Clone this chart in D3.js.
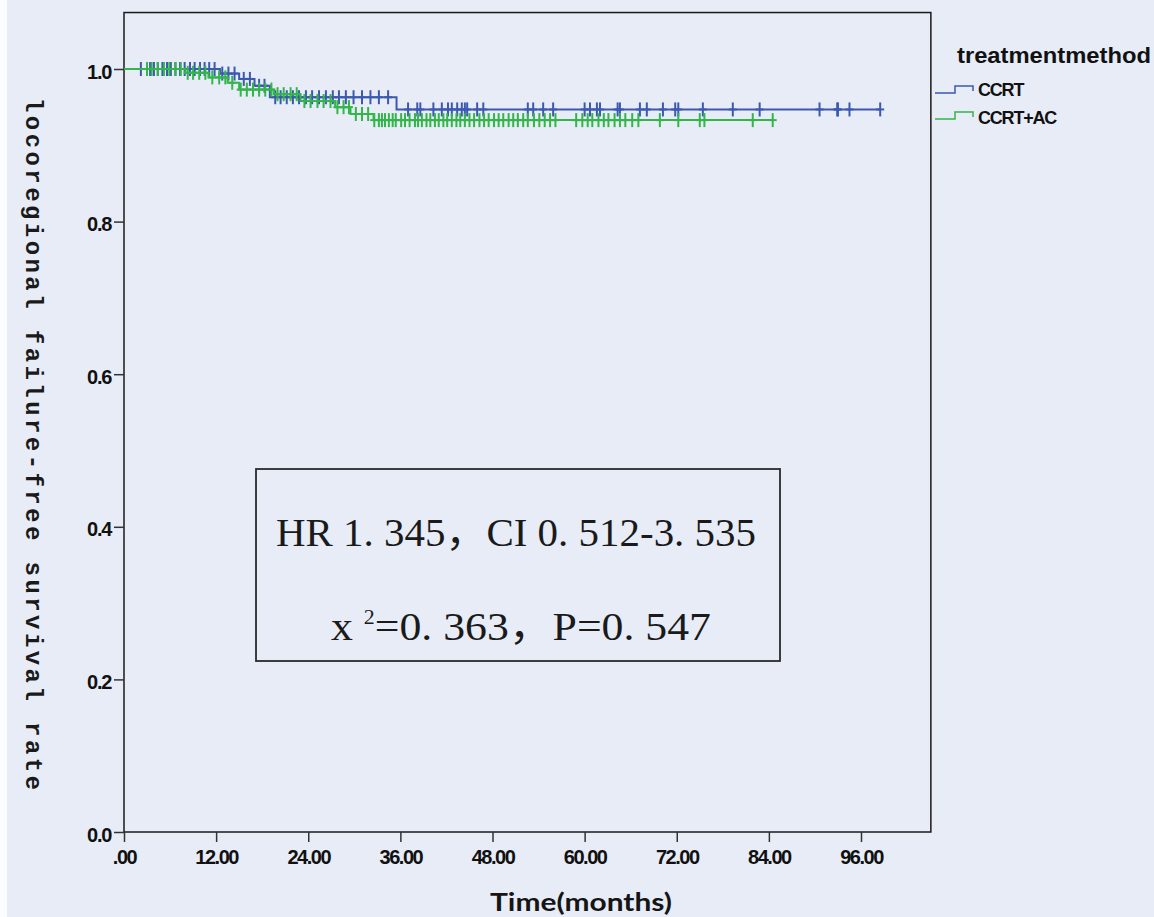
<!DOCTYPE html>
<html>
<head>
<meta charset="utf-8">
<script src="https://cdn.jsdelivr.net/npm/d3@7"></script>
<style>
  html, body { margin: 0; padding: 0; background: #e7ecf7; }
  svg { display: block; }
</style>
</head>
<body>
<svg></svg>
<script>
const width = 1154;
const height = 917;

// Kaplan-Meier step events (time in months, survival)
const ccrtTimes = [0, 12.5, 15.0, 17.0, 19.0, 35.5];
const ccrtSurv = [1, 0.994, 0.987, 0.978, 0.963, 0.947];
const ccrtEnd = 98.5;
const ccrtCensored = [2.2, 3.4, 3.9, 4.4, 5.0, 5.6, 6.1, 6.7, 7.3, 7.9, 8.6, 9.2, 9.9, 10.5, 11.1, 11.8,
    12.8, 13.6, 14.4, 15.6, 16.4, 17.6, 18.3, 19.7, 20.4, 21.2, 22.0, 22.8, 23.7, 24.5, 25.4, 26.3,
    27.2, 28.0, 28.9, 29.9, 31.0, 32.1, 33.2, 34.4, 37.0, 38.2, 38.6, 40.3, 41.4, 42.2, 42.7, 43.4,
    44.0, 44.4, 44.7, 46.0, 46.8, 52.6, 53.3, 54.6, 55.9, 60.0, 60.7, 61.6, 62.0, 64.3, 64.6, 67.2,
    68.1, 70.2, 71.8, 72.2, 75.4, 79.3, 82.8, 90.6, 92.9, 93.0, 94.5, 98.5];

const acTimes = [0, 8.0, 11.0, 13.5, 15.0, 19.5, 23.0, 27.5, 29.5, 32.5];
const acSurv = [1, 0.995, 0.989, 0.982, 0.973, 0.967, 0.958, 0.950, 0.941, 0.933];
const acEnd = 84.5;
const acCensored = [3.0, 3.6, 4.4, 5.2, 5.9, 6.7, 7.4, 8.3, 9.0, 9.8, 10.6, 11.5, 12.4, 13.2, 14.1,
    15.2, 16.0, 16.8, 17.6, 18.4, 19.2, 20.0, 20.8, 21.7, 22.5, 23.5, 24.3, 25.2, 26.0, 26.9, 27.8,
    28.6, 29.3, 30.2, 31.0, 31.8, 32.6, 33.2, 33.6, 34.0, 34.5, 35.0, 35.4, 36.1, 36.6, 37.2, 37.9,
    38.3, 38.8, 39.4, 39.9, 40.5, 41.0, 41.6, 42.1, 42.7, 43.3, 43.8, 44.4, 45.0, 45.6, 46.3, 46.9,
    47.5, 48.2, 48.8, 49.4, 50.1, 50.7, 51.3, 52.0, 52.6, 53.4, 54.1, 54.8, 55.5, 56.2, 58.9, 59.7,
    60.4, 61.0, 61.8, 62.5, 63.1, 63.9, 64.6, 65.3, 66.2, 67.0, 69.8, 72.2, 75.0, 75.6, 81.9, 84.5];

const xTicks = [0, 12, 24, 36, 48, 60, 72, 84, 96];
const xTickLabels = [".00", "12.00", "24.00", "36.00", "48.00", "60.00", "72.00", "84.00", "96.00"];
const yTicks = [0, 0.2, 0.4, 0.6, 0.8, 1.0];
const groupNames = ["CCRT", "CCRT+AC"];
const groupColors = ["#3c59b0", "#33b54a"];

const x = d3.scaleLinear().domain([0, 96]).range([124, 861]);
const y = d3.scaleLinear().domain([0, 1]).range([832, 69]);
const xMax = 105.1, yMax = 1.074;

const svg = d3.select("svg")
    .attr("width", width)
    .attr("height", height)
    .attr("viewBox", [0, 0, width, height]);

svg.append("rect").attr("width", width).attr("height", height).attr("fill", "#e7ecf7");
svg.append("rect").attr("width", 7).attr("height", height).attr("fill", "#fbfcfe");

// plot frame
svg.append("rect")
    .attr("x", x(0)).attr("y", y(yMax))
    .attr("width", x(xMax) - x(0)).attr("height", y(0) - y(yMax))
    .attr("fill", "none").attr("stroke", "#1a1a1a").attr("stroke-width", 1.5);

const xAxis = g => g
    .attr("transform", `translate(0,${y(0)})`)
    .call(d3.axisBottom(x).tickValues(xTicks).tickSize(10).tickPadding(8)
        .tickFormat((d, i) => xTickLabels[i]))
    .call(g => g.select(".domain").remove())
    .call(g => g.selectAll(".tick line").attr("stroke", "#333").attr("stroke-width", 1.5))
    .call(g => g.selectAll("text")
        .attr("fill", "#111")
        .attr("font-family", "Liberation Sans, Arial, sans-serif")
        .attr("font-weight", "bold")
        .attr("font-size", 20)
        .attr("letter-spacing", -1.5));

const yAxis = g => g
    .attr("transform", `translate(${x(0)},0)`)
    .call(d3.axisLeft(y).tickValues(yTicks).tickSize(10).tickPadding(3).tickFormat(d3.format(".1f")))
    .call(g => g.select(".domain").remove())
    .call(g => g.selectAll(".tick line").attr("stroke", "#333").attr("stroke-width", 1.5))
    .call(g => g.selectAll("text")
        .attr("fill", "#111")
        .attr("dy", "0.45em")
        .attr("font-family", "Liberation Sans, Arial, sans-serif")
        .attr("font-weight", "bold")
        .attr("font-size", 20)
        .attr("letter-spacing", -1.3));

svg.append("g").call(xAxis);
svg.append("g").call(yAxis);

// X-axis label
svg.append("text")
    .attr("x", 581).attr("y", 911)
    .attr("text-anchor", "middle")
    .attr("font-family", "Lato, sans-serif")
    .attr("font-weight", "bold")
    .attr("font-size", 25)
    .attr("fill", "#151515")
    .attr("textLength", 182)
    .attr("lengthAdjust", "spacingAndGlyphs")
    .text("Time(months)");

// Y-axis label
svg.append("text")
    .attr("transform", "translate(26,98) rotate(90)")
    .attr("font-family", "Liberation Mono, monospace")
    .attr("font-weight", "bold")
    .attr("font-size", 24)
    .attr("fill", "#1a1a1a")
    .attr("textLength", 692)
    .attr("lengthAdjust", "spacing")
    .text("locoregional failure-free survival rate");

// survival curves
const groups = [
    {times: ccrtTimes, surv: ccrtSurv, end: ccrtEnd, cens: ccrtCensored},
    {times: acTimes, surv: acSurv, end: acEnd, cens: acCensored}
];

function survAt(gr, t) {
    let s = gr.surv[0];
    gr.times.forEach((tt, i) => { if (tt <= t) s = gr.surv[i]; });
    return s;
}

const line = d3.line()
    .x(d => x(d[0]))
    .y(d => y(d[1]))
    .curve(d3.curveStepAfter);

groups.forEach((gr, gi) => {
    const pts = gr.times.map((t, i) => [t, gr.surv[i]]);
    pts.push([gr.end, gr.surv[gr.surv.length - 1]]);
    const g = svg.append("g").attr("stroke", groupColors[gi]).attr("stroke-width", 2);
    g.append("path")
        .attr("fill", "none")
        .attr("d", line(pts));
    g.selectAll("line.v")
        .data(gr.cens)
        .join("line")
        .attr("x1", d => x(d)).attr("x2", d => x(d))
        .attr("y1", d => y(survAt(gr, d)) - 7)
        .attr("y2", d => y(survAt(gr, d)) + 7);
    g.selectAll("line.h")
        .data(gr.cens)
        .join("line")
        .attr("x1", d => x(d) - 4).attr("x2", d => x(d) + 4)
        .attr("y1", d => y(survAt(gr, d)))
        .attr("y2", d => y(survAt(gr, d)));
});

// legend
svg.append("text")
    .attr("x", 957).attr("y", 63)
    .attr("font-family", "Liberation Sans, Arial, sans-serif")
    .attr("font-weight", "bold")
    .attr("font-size", 22)
    .attr("fill", "#111")
    .attr("textLength", 194)
    .attr("lengthAdjust", "spacingAndGlyphs")
    .text("treatmentmethod");

groupNames.forEach((name, i) => {
    const cy = 91 + i * 26;
    svg.append("path")
        .attr("d", `M935,${cy + 2}H955V${cy - 5}H973V${cy}`)
        .attr("fill", "none")
        .attr("stroke", groupColors[i])
        .attr("stroke-width", 1.5);
    svg.append("text")
        .attr("x", 978).attr("y", cy + 5 + i * 2)
        .attr("font-family", "Liberation Sans, Arial, sans-serif")
        .attr("font-weight", "bold")
        .attr("font-size", 18)
        .attr("letter-spacing", -1.2)
        .attr("fill", "#111")
        .text(name);
});

// statistics box
svg.append("rect")
    .attr("x", 256).attr("y", 469)
    .attr("width", 524).attr("height", 192)
    .attr("fill", "none").attr("stroke", "#2a2a2a").attr("stroke-width", 1.8);

const statFont = "'Liberation Serif', 'Noto Sans CJK SC', serif";

svg.append("text")
    .attr("x", 276).attr("y", 546)
    .attr("font-family", statFont)
    .attr("font-size", 40)
    .attr("fill", "#1a1a1a")
    .attr("textLength", 480)
    .attr("lengthAdjust", "spacingAndGlyphs")
    .text("HR 1. 345，CI 0. 512-3. 535");

const stat2 = svg.append("text")
    .attr("x", 331).attr("y", 640)
    .attr("font-family", statFont)
    .attr("font-size", 40)
    .attr("fill", "#1a1a1a")
    .attr("textLength", 380)
    .attr("lengthAdjust", "spacingAndGlyphs");
stat2.append("tspan").text("x ");
stat2.append("tspan").attr("font-size", 20).attr("dy", -16).text("2");
stat2.append("tspan").attr("dy", 16).text("=0. 363，P=0. 547");
</script>
</body>
</html>
